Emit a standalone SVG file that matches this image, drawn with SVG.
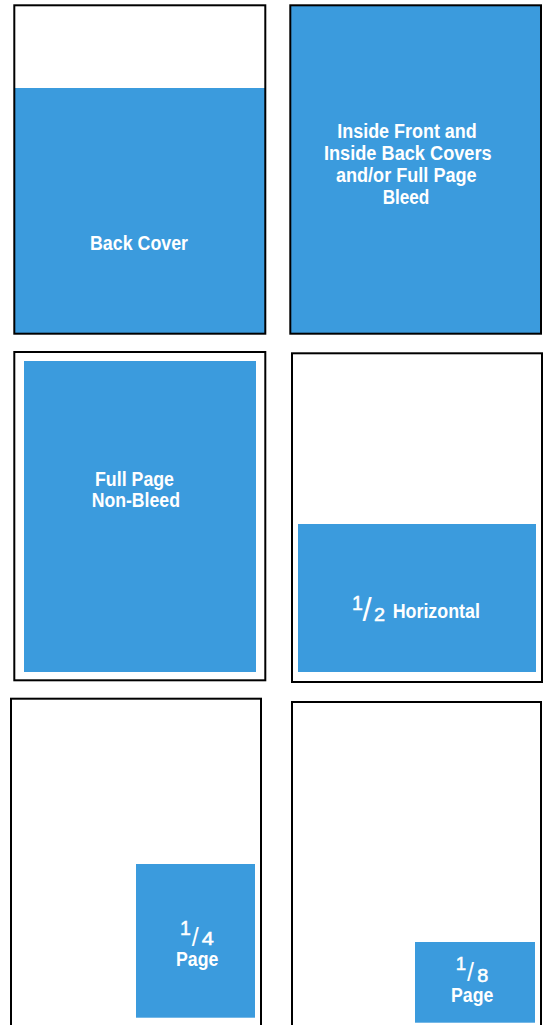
<svg xmlns="http://www.w3.org/2000/svg" width="543" height="1025" viewBox="0 0 543 1025">
<style>
.frame{fill:none;stroke:#000;stroke-width:2}
.ad{fill:#3B9BDD}
.lbl{font-family:"Liberation Sans Narrow","Liberation Sans",Arial,sans-serif;font-weight:bold;font-size:20px;fill:#fff;text-anchor:middle}
.fr{font-family:"Liberation Sans Narrow","Liberation Sans",Arial,sans-serif;font-weight:normal;fill:#fff;stroke:#fff;stroke-width:0.5;text-anchor:middle}
.sl{font-family:"Liberation Sans Narrow","Liberation Sans",Arial,sans-serif;font-weight:normal;fill:#fff;text-anchor:middle}
</style>
<rect width="543" height="1025" fill="#fff"/>
<g id="back-cover">
  <rect class="ad" x="14.3" y="88" width="251" height="245.7"/>
  <rect class="frame" x="14.3" y="5.3" width="251" height="328.4"/>
  <text class="lbl" x="139" y="250" textLength="98" lengthAdjust="spacingAndGlyphs">Back Cover</text>
</g>
<g id="inside-covers">
  <rect class="ad" x="290.3" y="5.3" width="250.7" height="328.4"/>
  <rect class="frame" x="290.3" y="5.3" width="250.7" height="328.4"/>
  <text class="lbl" x="407" y="138.3" textLength="139.4" lengthAdjust="spacingAndGlyphs">Inside Front and</text>
  <text class="lbl" x="407.8" y="160.3" textLength="167.7" lengthAdjust="spacingAndGlyphs">Inside Back Covers</text>
  <text class="lbl" x="406.3" y="182.3" textLength="140.7" lengthAdjust="spacingAndGlyphs">and/or Full Page</text>
  <text class="lbl" x="406" y="204.3" textLength="46.7" lengthAdjust="spacingAndGlyphs">Bleed</text>
</g>
<g id="full-page-non-bleed">
  <rect class="frame" x="14.3" y="352" width="251" height="328.3"/>
  <rect class="ad" x="24" y="361" width="232" height="311"/>
  <text class="lbl" x="134.5" y="486" textLength="79" lengthAdjust="spacingAndGlyphs">Full Page</text>
  <text class="lbl" x="135.8" y="506.7" textLength="88.3" lengthAdjust="spacingAndGlyphs">Non-Bleed</text>
</g>
<g id="half-horizontal">
  <rect class="frame" x="292" y="353.3" width="250" height="328.7"/>
  <rect class="ad" x="298" y="524" width="238" height="148"/>
  <text class="fr" x="357.5" y="610" font-size="19.5">1</text>
  <text class="sl" x="367.2" y="621" font-size="33">/</text>
  <text class="fr" x="379.5" y="620.7" font-size="17.5" textLength="11" lengthAdjust="spacingAndGlyphs">2</text>
  <text class="lbl" x="436.3" y="618.3" textLength="87.3" lengthAdjust="spacingAndGlyphs">Horizontal</text>
</g>
<g id="quarter-page">
  <rect class="frame" x="11" y="698.7" width="250" height="340"/>
  <rect class="ad" x="136" y="864" width="119" height="153.7"/>
  <text class="fr" x="185.5" y="935" font-size="19.5">1</text>
  <text class="sl" x="195.3" y="945.5" font-size="25">/</text>
  <text class="fr" x="207.8" y="945" font-size="17.5" textLength="12" lengthAdjust="spacingAndGlyphs">4</text>
  <text class="lbl" x="197.2" y="966" textLength="42.3" lengthAdjust="spacingAndGlyphs">Page</text>
</g>
<g id="eighth-page">
  <rect class="frame" x="292" y="702" width="249" height="340"/>
  <rect class="ad" x="415" y="942" width="120" height="80.7"/>
  <text class="fr" x="460.8" y="970" font-size="18.6">1</text>
  <text class="sl" x="470.5" y="980.5" font-size="25">/</text>
  <text class="fr" x="482.8" y="981.7" font-size="17.5" textLength="11" lengthAdjust="spacingAndGlyphs">8</text>
  <text class="lbl" x="472.2" y="1001.7" textLength="42.3" lengthAdjust="spacingAndGlyphs">Page</text>
</g>
</svg>
